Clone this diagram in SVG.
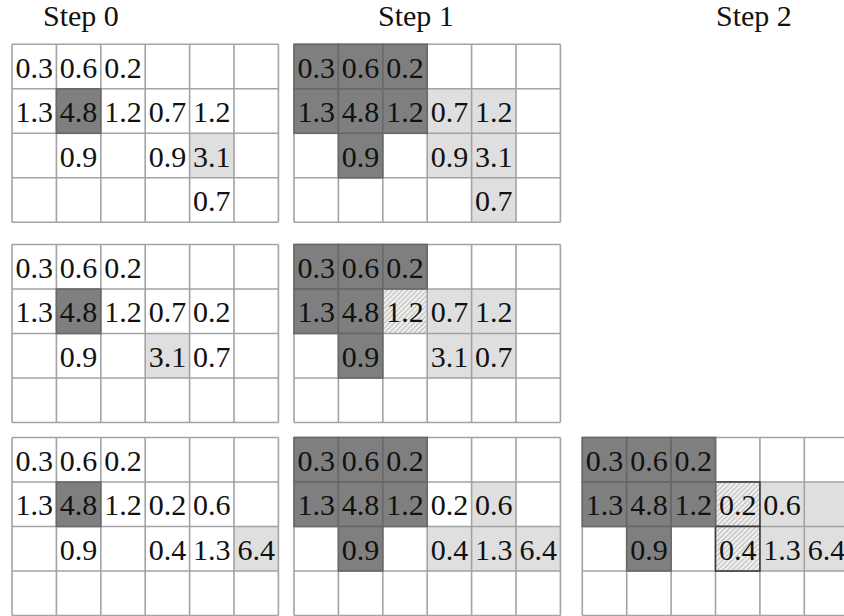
<svg xmlns="http://www.w3.org/2000/svg" width="844" height="616" viewBox="0 0 844 616">
<defs>
<pattern id="hatch" patternUnits="userSpaceOnUse" width="3.5" height="3.5" patternTransform="rotate(45)">
<rect width="3.5" height="3.5" fill="#ececec"/>
<line x1="0" y1="0" x2="0" y2="3.5" stroke="#9a9a9a" stroke-width="1.1"/>
</pattern>
<path id="grid" fill="none" stroke="#a3a3a3" stroke-width="1.6" d="M0 0H266.4M0 44.5H266.4M0 89H266.4M0 133.5H266.4M0 178H266.4M0 0V178M44.4 0V178M88.8 0V178M133.2 0V178M177.6 0V178M222 0V178M266.4 0V178"/>
<g id="dark3x2" fill="#7f7f7f" stroke="#686868" stroke-width="1.6">
<rect x="0" y="0" width="44.4" height="44.5"/><rect x="44.4" y="0" width="44.4" height="44.5"/><rect x="88.8" y="0" width="44.4" height="44.5"/>
<rect x="0" y="44.5" width="44.4" height="44.5"/><rect x="44.4" y="44.5" width="44.4" height="44.5"/>
<rect x="44.4" y="89" width="44.4" height="44.5"/>
</g>
</defs>
<rect width="844" height="616" fill="#fff"/>
<g id="titles" fill="#111">
<text font-family="Liberation Serif" font-size="30" x="43" y="26">Step 0</text>
<text font-family="Liberation Serif" font-size="30" x="378" y="26">Step 1</text>
<text font-family="Liberation Serif" font-size="30" x="716" y="26">Step 2</text>
</g>
<g id="grid-r1-step0" transform="translate(12,44.3)">
<rect fill="#dfdfdf" x="177.6" y="89" width="44.4" height="44.5"/>
<use href="#grid"/>
<rect fill="#7f7f7f" stroke="#686868" stroke-width="1.6" x="44.4" y="44.5" width="44.4" height="44.5"/>
<g text-anchor="middle" fill="#111">
<text font-family="Liberation Serif" font-size="30" x="22.2" y="33.4">0.3</text><text font-family="Liberation Serif" font-size="30" x="66.6" y="33.4">0.6</text><text font-family="Liberation Serif" font-size="30" x="111" y="33.4">0.2</text>
<text font-family="Liberation Serif" font-size="30" x="22.2" y="77.9">1.3</text><text font-family="Liberation Serif" font-size="30" x="66.6" y="77.9">4.8</text><text font-family="Liberation Serif" font-size="30" x="111" y="77.9">1.2</text><text font-family="Liberation Serif" font-size="30" x="155.4" y="77.9">0.7</text><text font-family="Liberation Serif" font-size="30" x="199.8" y="77.9">1.2</text>
<text font-family="Liberation Serif" font-size="30" x="66.6" y="122.4">0.9</text><text font-family="Liberation Serif" font-size="30" x="155.4" y="122.4">0.9</text><text font-family="Liberation Serif" font-size="30" x="199.8" y="122.4">3.1</text>
<text font-family="Liberation Serif" font-size="30" x="199.8" y="166.9">0.7</text>
</g>
</g>
<g id="grid-r1-step1" transform="translate(294,44.3)">
<g fill="#dfdfdf">
<rect x="133.2" y="44.5" width="88.8" height="89"/>
<rect x="177.6" y="133.5" width="44.4" height="44.5"/>
</g>
<use href="#grid"/>
<use href="#dark3x2"/>
<rect fill="#7f7f7f" stroke="#686868" stroke-width="1.6" x="88.8" y="44.5" width="44.4" height="44.5"/>
<g text-anchor="middle" fill="#111">
<text font-family="Liberation Serif" font-size="30" x="22.2" y="33.4">0.3</text><text font-family="Liberation Serif" font-size="30" x="66.6" y="33.4">0.6</text><text font-family="Liberation Serif" font-size="30" x="111" y="33.4">0.2</text>
<text font-family="Liberation Serif" font-size="30" x="22.2" y="77.9">1.3</text><text font-family="Liberation Serif" font-size="30" x="66.6" y="77.9">4.8</text><text font-family="Liberation Serif" font-size="30" x="111" y="77.9">1.2</text><text font-family="Liberation Serif" font-size="30" x="155.4" y="77.9">0.7</text><text font-family="Liberation Serif" font-size="30" x="199.8" y="77.9">1.2</text>
<text font-family="Liberation Serif" font-size="30" x="66.6" y="122.4">0.9</text><text font-family="Liberation Serif" font-size="30" x="155.4" y="122.4">0.9</text><text font-family="Liberation Serif" font-size="30" x="199.8" y="122.4">3.1</text>
<text font-family="Liberation Serif" font-size="30" x="199.8" y="166.9">0.7</text>
</g>
</g>
<g id="grid-r2-step0" transform="translate(12,244.5)">
<rect fill="#dfdfdf" x="133.2" y="89" width="44.4" height="44.5"/>
<use href="#grid"/>
<rect fill="#7f7f7f" stroke="#686868" stroke-width="1.6" x="44.4" y="44.5" width="44.4" height="44.5"/>
<g text-anchor="middle" fill="#111">
<text font-family="Liberation Serif" font-size="30" x="22.2" y="33.4">0.3</text><text font-family="Liberation Serif" font-size="30" x="66.6" y="33.4">0.6</text><text font-family="Liberation Serif" font-size="30" x="111" y="33.4">0.2</text>
<text font-family="Liberation Serif" font-size="30" x="22.2" y="77.9">1.3</text><text font-family="Liberation Serif" font-size="30" x="66.6" y="77.9">4.8</text><text font-family="Liberation Serif" font-size="30" x="111" y="77.9">1.2</text><text font-family="Liberation Serif" font-size="30" x="155.4" y="77.9">0.7</text><text font-family="Liberation Serif" font-size="30" x="199.8" y="77.9">0.2</text>
<text font-family="Liberation Serif" font-size="30" x="66.6" y="122.4">0.9</text><text font-family="Liberation Serif" font-size="30" x="155.4" y="122.4">3.1</text><text font-family="Liberation Serif" font-size="30" x="199.8" y="122.4">0.7</text>
</g>
</g>
<g id="grid-r2-step1" transform="translate(294,244.5)">
<rect fill="#dfdfdf" x="133.2" y="44.5" width="88.8" height="89"/>
<rect fill="url(#hatch)" x="88.8" y="44.5" width="44.4" height="44.5"/>
<use href="#grid"/>
<use href="#dark3x2"/>
<g text-anchor="middle" fill="#111">
<text font-family="Liberation Serif" font-size="30" x="22.2" y="33.4">0.3</text><text font-family="Liberation Serif" font-size="30" x="66.6" y="33.4">0.6</text><text font-family="Liberation Serif" font-size="30" x="111" y="33.4">0.2</text>
<text font-family="Liberation Serif" font-size="30" x="22.2" y="77.9">1.3</text><text font-family="Liberation Serif" font-size="30" x="66.6" y="77.9">4.8</text><text font-family="Liberation Serif" font-size="30" x="111" y="77.9">1.2</text><text font-family="Liberation Serif" font-size="30" x="155.4" y="77.9">0.7</text><text font-family="Liberation Serif" font-size="30" x="199.8" y="77.9">1.2</text>
<text font-family="Liberation Serif" font-size="30" x="66.6" y="122.4">0.9</text><text font-family="Liberation Serif" font-size="30" x="155.4" y="122.4">3.1</text><text font-family="Liberation Serif" font-size="30" x="199.8" y="122.4">0.7</text>
</g>
</g>
<g id="grid-r3-step0" transform="translate(12,437.5)">
<rect fill="#dfdfdf" x="222" y="89" width="44.4" height="44.5"/>
<use href="#grid"/>
<rect fill="#7f7f7f" stroke="#686868" stroke-width="1.6" x="44.4" y="44.5" width="44.4" height="44.5"/>
<g text-anchor="middle" fill="#111">
<text font-family="Liberation Serif" font-size="30" x="22.2" y="33.4">0.3</text><text font-family="Liberation Serif" font-size="30" x="66.6" y="33.4">0.6</text><text font-family="Liberation Serif" font-size="30" x="111" y="33.4">0.2</text>
<text font-family="Liberation Serif" font-size="30" x="22.2" y="77.9">1.3</text><text font-family="Liberation Serif" font-size="30" x="66.6" y="77.9">4.8</text><text font-family="Liberation Serif" font-size="30" x="111" y="77.9">1.2</text><text font-family="Liberation Serif" font-size="30" x="155.4" y="77.9">0.2</text><text font-family="Liberation Serif" font-size="30" x="199.8" y="77.9">0.6</text>
<text font-family="Liberation Serif" font-size="30" x="66.6" y="122.4">0.9</text><text font-family="Liberation Serif" font-size="30" x="155.4" y="122.4">0.4</text><text font-family="Liberation Serif" font-size="30" x="199.8" y="122.4">1.3</text><text font-family="Liberation Serif" font-size="30" x="244.2" y="122.4">6.4</text>
</g>
</g>
<g id="grid-r3-step1" transform="translate(294,437.5)">
<g fill="#dfdfdf">
<rect x="177.6" y="44.5" width="44.4" height="44.5"/>
<rect x="133.2" y="89" width="133.2" height="44.5"/>
</g>
<use href="#grid"/>
<use href="#dark3x2"/>
<rect fill="#7f7f7f" stroke="#686868" stroke-width="1.6" x="88.8" y="44.5" width="44.4" height="44.5"/>
<g text-anchor="middle" fill="#111">
<text font-family="Liberation Serif" font-size="30" x="22.2" y="33.4">0.3</text><text font-family="Liberation Serif" font-size="30" x="66.6" y="33.4">0.6</text><text font-family="Liberation Serif" font-size="30" x="111" y="33.4">0.2</text>
<text font-family="Liberation Serif" font-size="30" x="22.2" y="77.9">1.3</text><text font-family="Liberation Serif" font-size="30" x="66.6" y="77.9">4.8</text><text font-family="Liberation Serif" font-size="30" x="111" y="77.9">1.2</text><text font-family="Liberation Serif" font-size="30" x="155.4" y="77.9">0.2</text><text font-family="Liberation Serif" font-size="30" x="199.8" y="77.9">0.6</text>
<text font-family="Liberation Serif" font-size="30" x="66.6" y="122.4">0.9</text><text font-family="Liberation Serif" font-size="30" x="155.4" y="122.4">0.4</text><text font-family="Liberation Serif" font-size="30" x="199.8" y="122.4">1.3</text><text font-family="Liberation Serif" font-size="30" x="244.2" y="122.4">6.4</text>
</g>
</g>
<g id="grid-r3-step2" transform="translate(582.3,437.5)">
<rect fill="#dfdfdf" x="177.6" y="44.5" width="88.8" height="89"/>
<use href="#grid"/>
<g fill="url(#hatch)" stroke="#3a3a3a" stroke-width="1.6">
<rect x="133.2" y="44.5" width="44.4" height="44.5"/>
<rect x="133.2" y="89" width="44.4" height="44.5"/>
</g>
<use href="#dark3x2"/>
<rect fill="#7f7f7f" stroke="#686868" stroke-width="1.6" x="88.8" y="44.5" width="44.4" height="44.5"/>
<g text-anchor="middle" fill="#111">
<text font-family="Liberation Serif" font-size="30" x="22.2" y="33.4">0.3</text><text font-family="Liberation Serif" font-size="30" x="66.6" y="33.4">0.6</text><text font-family="Liberation Serif" font-size="30" x="111" y="33.4">0.2</text>
<text font-family="Liberation Serif" font-size="30" x="22.2" y="77.9">1.3</text><text font-family="Liberation Serif" font-size="30" x="66.6" y="77.9">4.8</text><text font-family="Liberation Serif" font-size="30" x="111" y="77.9">1.2</text><text font-family="Liberation Serif" font-size="30" x="155.4" y="77.9">0.2</text><text font-family="Liberation Serif" font-size="30" x="199.8" y="77.9">0.6</text>
<text font-family="Liberation Serif" font-size="30" x="66.6" y="122.4">0.9</text><text font-family="Liberation Serif" font-size="30" x="155.4" y="122.4">0.4</text><text font-family="Liberation Serif" font-size="30" x="199.8" y="122.4">1.3</text><text font-family="Liberation Serif" font-size="30" x="244.2" y="122.4">6.4</text>
</g>
</g>
</svg>
